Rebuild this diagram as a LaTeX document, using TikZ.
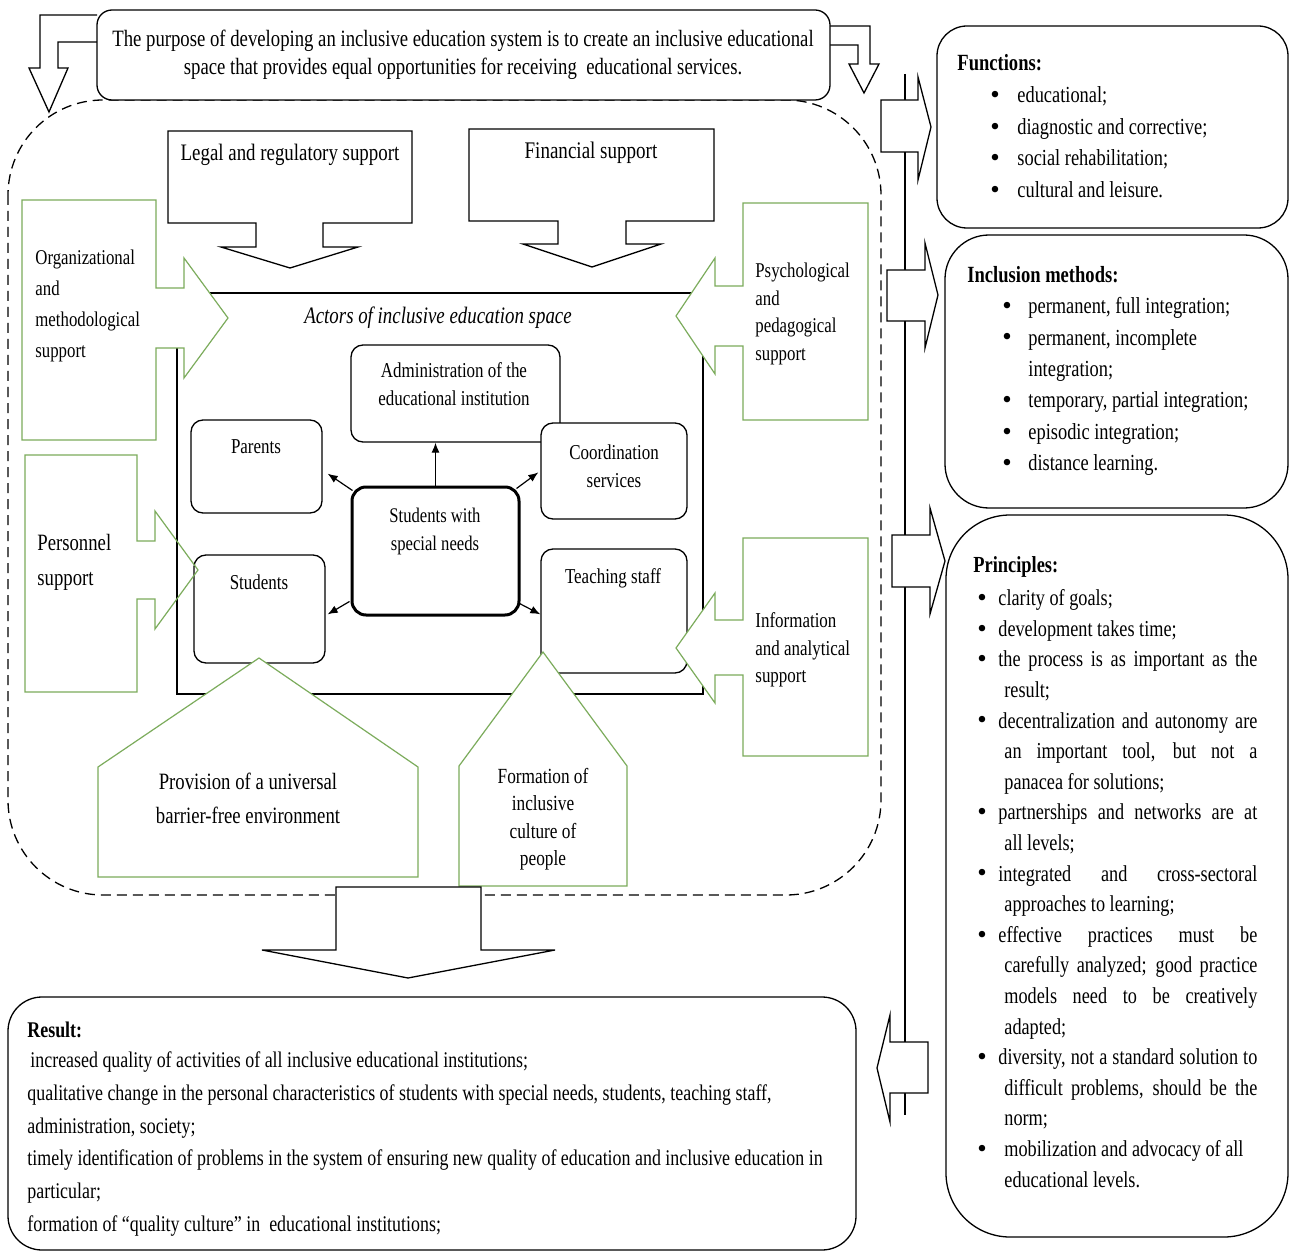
\documentclass[tikz,border=0pt]{standalone}
\usepackage{fontspec}
\setmainfont{Liberation Serif}[FakeStretch=0.8]
\newfontfamily\bulfont{Liberation Serif}
\usetikzlibrary{arrows.meta,fit}
\definecolor{grn}{RGB}{124,172,92}
\newcommand\fsz[2]{\fontsize{#1pt}{#2pt}\selectfont}
\newcommand\bul[1]{\makebox[#1][l]{\raisebox{-0.4pt}{\bulfont\fontsize{13.5pt}{13.5pt}\selectfont •}}}
\begin{document}
\begin{tikzpicture}[x=0.5pt,y=-0.5pt,
  ln/.style={line width=0.65pt},
  gr/.style={draw=grn,line width=0.6pt,fill=white},
  grn0/.style={draw=grn,line width=0.6pt},
  blk/.style={draw=black,line width=0.65pt,fill=white},
  abox/.style={draw,line width=0.65pt,rounded corners=6pt,inner sep=0pt,fill=white},
  arr/.style={line width=0.6pt,-{Latex[length=5pt,width=4pt]}},
  t/.style={inner sep=0pt,align=center},
  tl/.style={inner sep=0pt,align=left,anchor=west},
]
\fill[white] (0,0) rectangle (1291,1257);
\useasboundingbox (0,0) rectangle (1291,1257);

% dashed region
\draw[ln,dash pattern=on 5pt off 3pt,rounded corners=47.5pt] (8,100) rectangle (881,895);

% top box and its arrows
\draw[ln] (97,15) -- (40,15) -- (40,68) -- (29,68) -- (49,112) -- (68,68) -- (58,68) -- (58,42) -- (97,42);
\draw[ln] (830,26) -- (870,26) -- (870,64) -- (879,64) -- (864,93) -- (849,64) -- (858,64) -- (858,45) -- (830,45);
\node[abox,rounded corners=7.5pt,fit={(97,10)(830,100)}] (top) {};
\node[t,font=\fsz{11.7}{14}] (topT) at (463,55) {The purpose of developing an inclusive education system is to create an inclusive educational\\space that provides equal opportunities for receiving\ \ educational services.};

% legal and financial
\draw[blk] (168,131) -- (412,131) -- (412,223) -- (323,223) -- (323,247) -- (358,247) -- (290,268) -- (221,247) -- (256,247) -- (256,223) -- (168,223) -- cycle;
\node[t,font=\fsz{11.8}{14}] (legal) at (290,155) {Legal and regulatory support};
\draw[blk] (469,129) -- (714,129) -- (714,221) -- (626,221) -- (626,244) -- (661,244) -- (592,267) -- (523,244) -- (558,244) -- (558,221) -- (469,221) -- cycle;
\node[t,font=\fsz{11.9}{14}] (fin) at (591,153) {Financial support};

% actors space
\node[draw,ln,inner sep=0pt,fit={(177,293)(703,694)}] (space) {};
\node[t,font=\itshape\fsz{11.8}{14}] (actors) at (438,318) {Actors of inclusive education space};

\node[abox,fit={(351,345)(560,442)}] (admin) {};
\node[t,font=\fsz{10.6}{14}] (adminT) at (454,384) {Administration of the\\educational institution};
\node[abox,fit={(191,420)(322,513)}] (parents) {};
\node[t,font=\fsz{10.6}{14}] (parentsT) at (256,447) {Parents};
\node[abox,fit={(541,423)(687,519)}] (coord) {};
\node[t,font=\fsz{10.6}{14}] (coordT) at (614,466) {Coordination\\services};
\node[abox,line width=1.5pt,rounded corners=7pt,fit={(352,487)(519,615)}] (center) {};
\node[t,font=\fsz{10.4}{14}] (centerT) at (435,531) {Students with\\special needs};
\node[abox,fit={(194,555)(325,663)}] (students) {};
\node[t,font=\fsz{10.6}{14}] (studentsT) at (259,582) {Students};
\node[abox,fit={(541,549)(687,673)}] (teach) {};
\node[t,font=\fsz{10.6}{14}] (teachT) at (613,578) {Teaching staff};

\draw[arr] (center.north) -- (center.north |- admin.south);
\draw[arr] ([shift={(2,5)}]center.north west) -- ([shift={(5,-40)}]parents.south east);
\draw[arr] ([shift={(-4,3)}]center.north east) -- ([shift={(-2,50)}]coord.north west);
\draw[arr] ([shift={(-1,-15)}]center.south west) -- ([shift={(2,60)}]students.north east);
\draw[arr] ([shift={(-1,-13)}]center.south east) -- ([shift={(0,66)}]teach.north west);

% green supports
\draw[gr] (22,200) -- (156,200) -- (156,288) -- (184,288) -- (184,258) -- (228,318) -- (184,378) -- (184,348) -- (156,348) -- (156,440) -- (22,440) -- cycle;
\node[tl,font=\fsz{10.5}{15.5}] (org) at (35,306) {Organizational\\and\\methodological\\support};

\draw[grn0] (25,455) -- (137,455) -- (137,541) -- (155,541) -- (155,511) -- (198,570) -- (155,629) -- (155,599) -- (137,599) -- (137,692) -- (25,692) -- cycle;
\node[tl,font=\fsz{11.7}{17.5}] (pers) at (37,562) {Personnel\\support};

\draw[gr] (868,203) -- (743,203) -- (743,286) -- (715,286) -- (715,258) -- (676,316) -- (715,374) -- (715,346) -- (743,346) -- (743,420) -- (868,420) -- cycle;
\node[tl,font=\fsz{10.5}{13.7}] (psy) at (755,314) {Psychological\\and\\pedagogical\\support};

\draw[gr] (868,538) -- (743,538) -- (743,620) -- (715,620) -- (715,593) -- (676,648) -- (715,703) -- (715,675) -- (743,675) -- (743,756) -- (868,756) -- cycle;
\node[tl,font=\fsz{10.6}{13.8}] (info) at (755,650) {Information\\and analytical\\support};

\draw[gr] (98,877) -- (98,767) -- (259,658) -- (418,767) -- (418,877) -- cycle;
\node[t,font=\fsz{11.7}{17}] (prov) at (248,798) {Provision of a universal\\barrier-free environment};
\draw[gr] (459,886) -- (459,766) -- (543,652) -- (627,766) -- (627,886) -- cycle;
\node[t,font=\fsz{10.8}{13.7}] (form) at (543,819) {Formation of\\inclusive\\culture of\\people};

% down arrow to result
\draw[blk] (336,887) -- (481,887) -- (481,950) -- (555,950) -- (408,978) -- (262,950) -- (336,950) -- cycle;

% result
\node[abox,rounded corners=17pt,fit={(8,997)(856,1250)}] (result) {};
\node[tl,font=\bfseries\fsz{11.2}{14}] (resT) at (27,1030) {Result:};
\node[tl,font=\fsz{11.2}{16.4}] (resL) at (27,1144) {\hspace*{1.5pt}increased quality of activities of all inclusive educational institutions;\\
qualitative change in the personal characteristics of students with special needs, students, teaching staff,\\
administration, society;\\
timely identification of problems in the system of ensuring new quality of education and inclusive education in\\
particular;\\
formation of “quality culture” in\ \ educational institutions;};

% right column line and arrows
\draw[line width=0.6pt] (905,74) -- (905,1115);
\draw[blk] (881,100) -- (918,100) -- (918,77) -- (931,127) -- (918,180) -- (918,152) -- (881,152) -- cycle;
\draw[blk] (887,270) -- (925,270) -- (925,243) -- (938,295) -- (925,348) -- (925,321) -- (887,321) -- cycle;
\draw[blk] (892,535) -- (930,535) -- (930,508) -- (945,561) -- (930,614) -- (930,587) -- (892,587) -- cycle;
\draw[blk] (928,1042) -- (890,1042) -- (890,1015) -- (877,1068) -- (890,1122) -- (890,1093) -- (928,1093) -- cycle;

% functions
\node[abox,rounded corners=15pt,fit={(937,26)(1288,228)}] (func) {};
\node[tl,font=\bfseries\fsz{11.6}{14}] (funcT) at (957,63) {Functions:};
\node[tl,font=\fsz{11.5}{15.75}] (funcL) at (990,142.5) {\bul{13.5pt}educational;\\
\bul{13.5pt}diagnostic and corrective;\\
\bul{13.5pt}social rehabilitation;\\
\bul{13.5pt}cultural and leisure.};

% inclusion methods
\node[abox,rounded corners=22pt,fit={(945,235)(1288,508)}] (incl) {};
\node[tl,font=\bfseries\fsz{11.6}{14}] (inclT) at (967,275) {Inclusion methods:};
\node[tl,font=\fsz{11.5}{15.7}] (inclL) at (1002,386.5) {\bul{13pt}permanent, full integration;\\
\bul{13pt}permanent, incomplete\\
\hspace*{13pt}integration;\\
\bul{13pt}temporary, partial integration;\\
\bul{13pt}episodic integration;\\
\bul{13pt}distance learning.};

% principles
\node[abox,rounded corners=32pt,fit={(946,515)(1288,1237)}] (princ) {};
\node[tl,font=\bfseries\fsz{11.5}{14}] (princT) at (973,567) {Principles:};
\node[tl,font=\fsz{11.4}{15.3}] (princL) at (977,888.5) {\bul{10.5pt}clarity of goals;\\
\bul{10.5pt}development takes time;\\
\bul{10.5pt}\makebox[129.5pt][s]{the process is as important as the}\\
\hspace*{13.5pt}result;\\
\bul{10.5pt}\makebox[129.5pt][s]{decentralization and autonomy are}\\
\hspace*{13.5pt}\makebox[126.5pt][s]{an important tool, but not a}\\
\hspace*{13.5pt}panacea for solutions;\\
\bul{10.5pt}\makebox[129.5pt][s]{partnerships and networks are at}\\
\hspace*{13.5pt}all levels;\\
\bul{10.5pt}\makebox[129.5pt][s]{integrated and cross-sectoral}\\
\hspace*{13.5pt}approaches to learning;\\
\bul{10.5pt}\makebox[129.5pt][s]{effective practices must be}\\
\hspace*{13.5pt}\makebox[126.5pt][s]{carefully analyzed; good practice}\\
\hspace*{13.5pt}\makebox[126.5pt][s]{models need to be creatively}\\
\hspace*{13.5pt}adapted;\\
\bul{10.5pt}\makebox[129.5pt][s]{diversity, not a standard solution to}\\
\hspace*{13.5pt}\makebox[126.5pt][s]{difficult problems, should be the}\\
\hspace*{13.5pt}norm;\\
\bul{13.5pt}mobilization and advocacy of all\\
\hspace*{13.5pt}educational levels.};
\end{tikzpicture}
\end{document}
